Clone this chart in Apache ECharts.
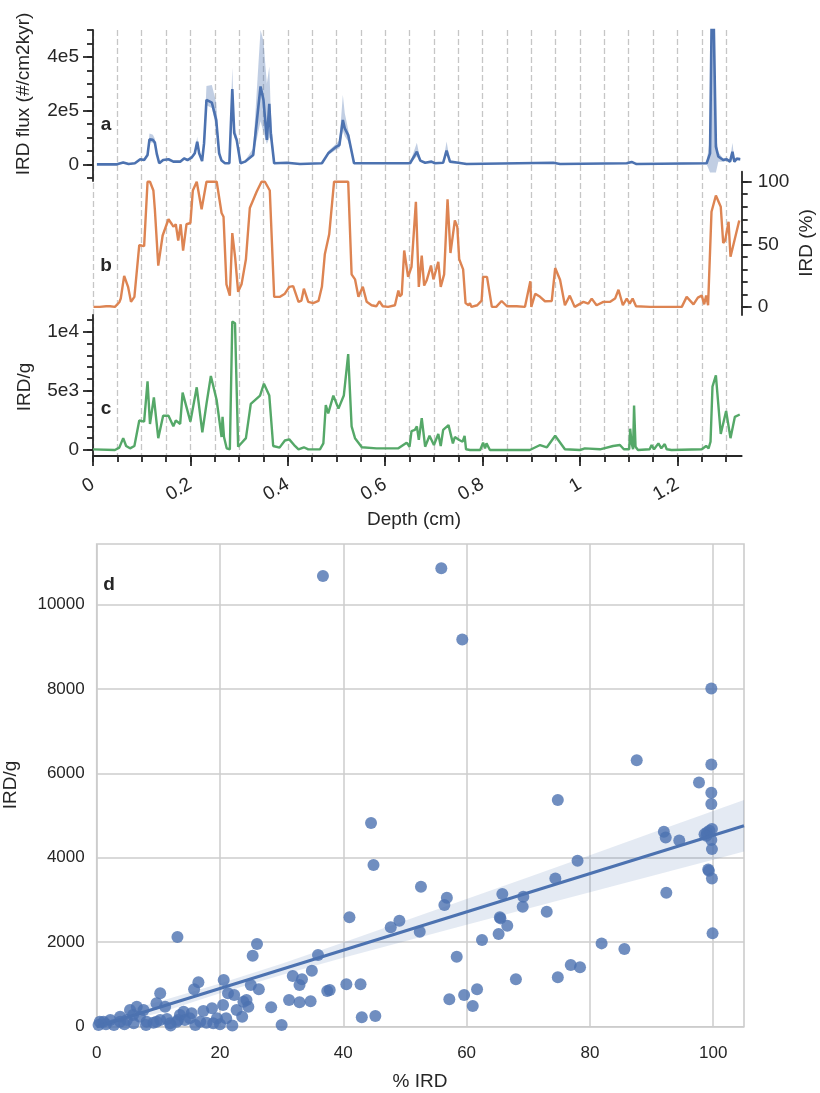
<!DOCTYPE html>
<html>
<head>
<meta charset="utf-8">
<script src="https://cdn.jsdelivr.net/npm/echarts@6/dist/echarts.min.js"></script>
<style>
  html, body { margin: 0; padding: 0; background: #ffffff; }
  #chart { width: 820px; height: 1093px; }
</style>
</head>
<body>
<div id="chart"></div>
<script>
// ---- (a) IRD flux with uncertainty envelope ----
const depthA = [
  0.008,0.049,0.062,0.073,0.086,0.097,0.105,0.112,0.116,0.123,
  0.127,0.131,0.136,0.144,0.155,0.165,0.179,0.187,0.194,0.203,
  0.209,0.214,0.218,0.224,0.228,0.233,0.244,0.253,0.259,0.264,
  0.271,0.280,0.286,0.290,0.295,0.303,0.312,0.329,0.344,0.350,
  0.357,0.362,0.365,0.372,0.398,0.425,0.470,0.483,0.500,0.506,
  0.513,0.517,0.524,0.536,0.651,0.665,0.672,0.682,0.695,0.702,
  0.719,0.726,0.733,0.750,0.767,0.945,0.959,1.096,1.106,1.116,
  1.260,1.267,1.272,1.275,1.279,1.284,1.294,1.301,1.308,1.313,
  1.317,1.322,1.329
];
const fluxA = [
  0,0,7000,1000,4000,19000,16000,35000,93000,91000,
  81000,39000,4000,16000,19000,10000,10000,22000,16000,26000,
  41000,84000,41000,12000,78000,240000,230000,165000,41000,14000,
  4000,4000,280000,116000,91000,4000,10000,35000,290000,240000,
  91000,225000,116000,4000,6000,1000,4000,41000,66000,72000,
  165000,134000,109000,4000,4000,47000,14000,6000,10000,4000,
  6000,51000,10000,6000,1000,6000,1000,4000,9000,1000,
  4000,41000,800000,800000,66000,29000,16000,19000,10000,47000,
  10000,21000,19000
];
const fluxLo = [
  0,0,4000,0,2000,15000,13000,30000,82000,80000,
  70000,33000,2000,13000,16000,8000,8000,19000,13000,22000,
  35000,70000,35000,9000,65000,220000,210000,135000,30000,10000,
  2000,2000,240000,100000,80000,2000,7000,30000,160000,120000,
  75000,100000,90000,2000,4000,0,2000,35000,55000,60000,
  125000,105000,85000,2000,2000,30000,10000,4000,8000,2000,
  4000,35000,8000,4000,0,4000,0,2000,6000,0,
  0,-30000,-30000,-30000,-30000,10000,10000,13000,6000,20000,
  6000,15000,13000
];
const fluxHi = [
  0,0,10000,3000,6000,22000,20000,42000,115000,110000,
  95000,46000,7000,19000,22000,12000,12000,26000,19000,30000,
  48000,103000,50000,15000,90000,292000,295000,230000,60000,20000,
  6000,6000,360000,140000,110000,7000,13000,60000,530000,460000,
  300000,364000,200000,8000,8000,3000,6000,50000,78000,90000,
  258000,190000,130000,6000,6000,80000,18000,8000,12000,6000,
  8000,85000,13000,8000,3000,8000,3000,6000,12000,3000,
  8000,100000,900000,900000,109000,45000,22000,25000,15000,80000,
  15000,27000,25000
];

// ---- (b) IRD percentage ----
const depthB = [
  0.001,0.014,0.027,0.035,0.045,0.054,0.057,0.064,0.068,0.072,
  0.078,0.085,0.095,0.100,0.105,0.112,0.117,0.124,0.127,0.134,
  0.143,0.155,0.162,0.165,0.170,0.175,0.180,0.185,0.192,0.196,
  0.200,0.205,0.213,0.223,0.233,0.254,0.264,0.268,0.274,0.278,
  0.281,0.286,0.292,0.298,0.305,0.314,0.322,0.336,0.346,0.353,
  0.363,0.372,0.384,0.394,0.403,0.411,0.422,0.428,0.433,0.442,
  0.452,0.463,0.470,0.476,0.485,0.495,0.524,0.531,0.538,0.545,
  0.554,0.562,0.572,0.582,0.588,0.595,0.606,0.620,0.627,0.630,
  0.634,0.639,0.647,0.654,0.663,0.669,0.675,0.680,0.685,0.694,
  0.699,0.709,0.714,0.721,0.728,0.734,0.743,0.748,0.752,0.760,
  0.765,0.771,0.774,0.777,0.789,0.798,0.801,0.809,0.819,0.828,
  0.839,0.850,0.870,0.887,0.898,0.900,0.908,0.918,0.928,0.942,
  0.949,0.959,0.969,0.979,0.989,1.007,1.017,1.024,1.034,1.048,
  1.062,1.072,1.079,1.088,1.096,1.102,1.108,1.115,1.144,1.148,
  1.157,1.209,1.219,1.233,1.242,1.250,1.255,1.259,1.263,1.270,
  1.279,1.289,1.294,1.298,1.305,1.309,1.327
];
const pctB = [
  0,0,0.5,0.5,0,3.7,6.7,24.8,24.5,16,
  4,8,49.3,49,48.5,100,100,93,78,33,
  57,70,66,64,66,53,66,45,66,67,
  67,93,100,78,100,100,75,72,18,18,
  9,59,39,12,18,38,79,92,100,100,
  93,8,8,10.5,16,16.6,4,5,14.5,4,
  3,4.7,16,42,58,100,100,26,22,8,
  16,4,1.3,0.5,4.5,0.5,0,1.3,13,8.4,
  10,45,24,32,84,16,41,17,21,33,
  22,36,16,26,86,43,69,64,38,30,
  3,1.3,3,0,1.3,5,24,24,0,0,
  4.7,0.5,0.5,0,20.5,0,10.5,8,4.5,4.7,
  31,21.6,1.3,9,0,4,2.6,6.6,1.3,4,
  4,6.6,13.7,1.3,6.6,2.6,6.6,0.5,0,1.3,
  0,0,8,2,7.4,9,2,9,1.3,76,
  89,80,51,53,68,40,69
];

// ---- (c) IRD per gram ----
const depthC = [
  0.000,0.045,0.054,0.062,0.068,0.076,0.085,0.095,0.105,0.112,
  0.117,0.125,0.134,0.144,0.155,0.165,0.170,0.179,0.184,0.200,
  0.213,0.2245,0.2334,0.242,0.254,0.264,0.266,0.269,0.2745,0.281,
  0.286,0.2916,0.298,0.314,0.324,0.343,0.351,0.362,0.370,0.383,
  0.394,0.403,0.413,0.422,0.433,0.442,0.466,0.473,0.478,0.483,
  0.4935,0.504,0.515,0.524,0.531,0.538,0.552,0.582,0.627,0.644,
  0.650,0.654,0.661,0.665,0.669,0.675,0.682,0.691,0.694,0.700,
  0.709,0.714,0.719,0.730,0.739,0.743,0.752,0.759,0.763,0.766,
  0.774,0.795,0.801,0.805,0.808,0.815,0.897,0.918,0.932,0.949,
  0.969,1.000,1.010,1.041,1.068,1.082,1.090,1.101,1.103,1.106,
  1.109,1.111,1.114,1.119,1.143,1.147,1.152,1.161,1.167,1.174,
  1.178,1.188,1.250,1.259,1.264,1.268,1.272,1.279,1.289,1.300,
  1.309,1.318,1.328
];
const irdC = [
  50,0,200,1000,340,140,340,2500,2400,5800,
  2200,4450,1000,2900,2900,2000,2500,2200,4850,2400,
  5300,1500,4000,6250,4200,1100,2800,1100,140,50,
  10850,10700,280,1000,3900,4600,5600,4600,340,200,
  800,900,420,60,230,50,50,560,3800,3100,
  4600,3500,4600,8100,2000,1000,230,140,140,620,
  280,1600,1700,2000,850,2700,280,1200,1100,420,
  1350,340,1700,2100,560,1100,850,700,1200,60,
  0,0,620,140,560,0,0,420,230,1200,
  60,0,140,60,340,420,60,60,1800,560,
  60,3750,280,0,60,420,60,560,140,500,
  60,0,60,340,140,700,5350,6300,1350,3300,
  1000,2800,3000
];

// ---- (d) IRD/g against % IRD ----
const pctIRD = [
  36.7,55.9,59.3,99.7,87.6,99.7,97.7,99.7,99.7,74.8,44.5,44.9,
  92.0,92.3,94.5,98.6,99.0,99.4,99.8,98.9,99.7,99.8,99.2,99.3,99.8,92.4,99.9,
  78.0,74.4,65.8,69.2,69.1,73.0,56.4,56.8,52.6,65.4,52.4,58.4,62.5,65.5,66.6,65.2,
  57.2,59.6,61.7,61.0,68.0,74.8,76.9,78.4,81.9,85.6,
  41.0,49.1,47.7,13.1,26.0,25.3,35.9,34.9,31.8,33.3,32.9,20.6,16.5,15.8,10.3,25.0,
  26.3,21.3,22.3,40.5,42.8,37.4,37.8,31.2,32.9,34.7,28.3,43.0,45.2,30.0,23.6,22.7,
  24.6,24.3,23.8,20.5,18.7,17.3,9.7,11.1,
  15.4,14.1,13.5,15.1,14.3,13.2,11.4,10.3,9.7,6.5,5.4,5.9,7.6,7.0,3.8,2.2,1.1,0.5,
  3.8,4.9,8.1,9.2,11.9,13.0,16.8,17.8,18.9,0.3,1.5,2.8,4.5,6.0,8.0,12.0,16.0,20.0,
  22.0,19.5,21.0
];
const irdPerGram = [
  10675,10857,9169,8009,6312,6210,5784,5538,5271,5366,4822,3828,
  4615,4482,4411,4560,4600,4640,4680,4520,4419,4205,3720,3690,3512,3172,2210,
  3929,3512,3141,3077,2840,2722,2880,3053,3314,2589,2249,1657,2052,2565,2391,2194,
  648,750,885,490,1121,1169,1460,1405,1973,1839,
  2589,2509,2353,2123,1958,1681,1697,1326,1200,1122,987,1105,1050,885,790,987,
  885,790,750,1003,1003,845,868,632,578,601,459,222,253,40,237,395,
  473,632,592,513,435,372,553,473,
  317,355,277,199,159,159,182,159,118,473,395,277,395,237,237,159,118,118,
  118,159,118,95,80,118,118,95,80,40,60,40,60,80,40,30,40,60,
  30,200,200
];
// Fitted regression line and its 95% confidence envelope
const fitX = [0, 105];
const fitY = [0, 4757];
const ciX  = [0, 10, 20, 30, 40, 50, 60, 70, 80, 90, 100, 105];
const ciLo = [-182, 318, 791, 1225, 1631, 2021, 2414, 2801, 3186, 3570, 3954, 4147];
const ciHi = [182, 588, 1021, 1493, 1993, 2509, 3022, 3541, 4062, 4584, 5106, 5367];

// ---- tick positions and labels ----
const depthMinorTicks = [0,0.05,0.1,0.15,0.2,0.25,0.3,0.35,0.4,0.45,0.5,0.55,0.6,0.65,
  0.7,0.75,0.8,0.85,0.9,0.95,1,1.05,1.1,1.15,1.2,1.25,1.3];
const depthMajorTicks = [0,0.2,0.4,0.6,0.8,1,1.2];
const fluxMinorTicks = [-50000,0,50000,100000,150000,200000,250000,300000,350000,400000,450000,500000];
const fluxMajorTicks = [0,200000,400000];
const fluxTickLabels = ['0','2e5','4e5'];
const pctMinorTicks = [0,10,20,30,40,50,60,70,80,90,100];
const pctMajorTicks = [0,50,100];
const gramMinorTicks = [0,1000,2000,3000,4000,5000,6000,7000,8000,9000,10000,11000];
const gramMajorTicks = [0,5000,10000];
const gramTickLabels = ['0','5e3','1e4'];

const FONT = '"Liberation Sans", Arial, Helvetica, sans-serif';
const INK = '#262626';
const BLUE = '#4c72b0', ORANGE = '#dd8452', GREEN = '#55a868';

const pairs = (xs, ys) => xs.map((x, i) => [x, ys[i]]);

function envelope(xs, lo, hi, xi, yi, yMin, yMax, fill) {
  const c = v => Math.max(yMin, Math.min(yMax, v));
  return {
    type: 'custom', xAxisIndex: xi, yAxisIndex: yi, clip: true, silent: true, z: 2,
    data: [[xs[0], 0]],
    renderItem: function (params, api) {
      const pts = [];
      for (let i = 0; i < xs.length; i++) pts.push(api.coord([xs[i], c(hi[i])]));
      for (let i = xs.length - 1; i >= 0; i--) pts.push(api.coord([xs[i], c(lo[i])]));
      return { type: 'polygon', shape: { points: pts }, style: { fill: fill } };
    }
  };
}

const spine = { show: true, onZero: false, lineStyle: { color: INK, width: 1.8 } };
const noLine = { show: false, onZero: false };
const tickLine = { color: INK, width: 1.8 };
const topFont = { color: INK, fontSize: 19, fontFamily: FONT };
const gridFont = { color: INK, fontSize: 17, fontFamily: FONT };
const hiddenX = (g) => ({ type: 'value', gridIndex: g, min: 0, max: 1.332, show: false, axisLine: noLine });

const LEFT = 93, WIDTH = 648.7;

const option = {
  animation: false,
  backgroundColor: '#ffffff',
  grid: [
    { left: LEFT, top: 30, width: WIDTH, height: 426, outerBoundsMode: 'none' },
    { left: LEFT, top: 30, width: WIDTH, height: 151, outerBoundsMode: 'none' },
    { left: LEFT, top: 171.7, width: WIDTH, height: 143.3, outerBoundsMode: 'none' },
    { left: LEFT, top: 315, width: WIDTH, height: 141, outerBoundsMode: 'none' },
    { left: 96.7, top: 544, width: 647.3, height: 482.7, show: true,
      borderColor: '#cccccc', borderWidth: 1.6, backgroundColor: 'transparent', outerBoundsMode: 'none' }
  ],
  xAxis: [
    // 0: dashed depth guides through all three panels
    { type: 'value', gridIndex: 0, min: 0, max: 1.332, interval: 0.05, position: 'bottom',
      axisLine: noLine, axisTick: { show: false }, axisLabel: { show: false },
      splitLine: { show: true, showMaxLine: false, lineStyle: { color: '#c6c6c6', width: 1.3, type: [6, 3] } } },
    // 1: bottom depth axis with minor ticks
    { type: 'value', gridIndex: 0, min: 0, max: 1.332, position: 'bottom', offset: 0,
      axisLine: spine,
      axisTick: { show: true, length: 6, lineStyle: tickLine, customValues: depthMinorTicks },
      axisLabel: { show: false }, splitLine: { show: false } },
    // 2: bottom depth axis major ticks and labels
    { type: 'value', gridIndex: 0, min: 0, max: 1.332, position: 'bottom', offset: 0,
      axisLine: noLine,
      axisTick: { show: true, length: 10, lineStyle: tickLine, customValues: depthMajorTicks },
      axisLabel: Object.assign({ show: true, rotate: 30, margin: 27, customValues: depthMajorTicks,
        formatter: v => String(v) }, topFont),
      splitLine: { show: false } },
    hiddenX(1), hiddenX(2), hiddenX(3),
    // 6: scatter x
    { type: 'value', gridIndex: 4, min: 0, max: 105, interval: 20,
      axisLine: noLine, axisTick: { show: false },
      axisLabel: Object.assign({ margin: 18, showMaxLabel: false, formatter: v => String(v) }, gridFont),
      splitLine: { show: true, showMaxLine: false, lineStyle: { color: '#cccccc', width: 1.5 } } }
  ],
  yAxis: [
    { type: 'value', gridIndex: 0, min: 0, max: 1, show: false, axisLine: noLine },
    // panel a
    { type: 'value', gridIndex: 1, min: -62000, max: 500000, position: 'left',
      axisLine: spine,
      axisTick: { show: true, length: 6, lineStyle: tickLine, customValues: fluxMinorTicks },
      axisLabel: { show: false }, splitLine: { show: false } },
    { type: 'value', gridIndex: 1, min: -62000, max: 500000, position: 'left', offset: 0,
      axisLine: noLine,
      axisTick: { show: true, length: 10, lineStyle: tickLine, customValues: fluxMajorTicks },
      axisLabel: Object.assign({ margin: 14, customValues: fluxMajorTicks,
        formatter: v => fluxTickLabels[fluxMajorTicks.indexOf(v)] }, topFont),
      splitLine: { show: false } },
    // panel b (right side)
    { type: 'value', gridIndex: 2, min: -6.5, max: 108, position: 'right',
      axisLine: spine,
      axisTick: { show: true, length: 6, lineStyle: tickLine, customValues: pctMinorTicks },
      axisLabel: { show: false }, splitLine: { show: false } },
    { type: 'value', gridIndex: 2, min: -6.5, max: 108, position: 'right', offset: 0,
      axisLine: noLine,
      axisTick: { show: true, length: 10, lineStyle: tickLine, customValues: pctMajorTicks },
      axisLabel: Object.assign({ margin: 16, customValues: pctMajorTicks }, topFont),
      splitLine: { show: false } },
    // panel c
    { type: 'value', gridIndex: 3, min: -507, max: 11408, position: 'left',
      axisLine: spine,
      axisTick: { show: true, length: 6, lineStyle: tickLine, customValues: gramMinorTicks },
      axisLabel: { show: false }, splitLine: { show: false } },
    { type: 'value', gridIndex: 3, min: -507, max: 11408, position: 'left', offset: 0,
      axisLine: noLine,
      axisTick: { show: true, length: 10, lineStyle: tickLine, customValues: gramMajorTicks },
      axisLabel: Object.assign({ margin: 14, customValues: gramMajorTicks,
        formatter: v => gramTickLabels[gramMajorTicks.indexOf(v)] }, topFont),
      splitLine: { show: false } },
    // scatter y
    { type: 'value', gridIndex: 4, min: 0, max: 11430, interval: 2000,
      axisLine: noLine, axisTick: { show: false },
      axisLabel: Object.assign({ margin: 12, showMaxLabel: false, formatter: v => String(v) }, gridFont),
      splitLine: { show: true, showMaxLine: false, lineStyle: { color: '#cccccc', width: 1.5 } } }
  ],
  series: [
    envelope(depthA, fluxLo, fluxHi, 3, 1, -62000, 500000, 'rgba(76,114,176,0.35)'),
    { type: 'line', xAxisIndex: 3, yAxisIndex: 1, data: pairs(depthA, fluxA), showSymbol: false,
      symbol: 'none', clip: true, z: 3, lineStyle: { color: BLUE, width: 2.6 } },
    { type: 'line', xAxisIndex: 4, yAxisIndex: 3, data: pairs(depthB, pctB), showSymbol: false,
      symbol: 'none', clip: true, z: 3, lineStyle: { color: ORANGE, width: 2.4 } },
    { type: 'line', xAxisIndex: 5, yAxisIndex: 5, data: pairs(depthC, irdC), showSymbol: false,
      symbol: 'none', clip: true, z: 3, lineStyle: { color: GREEN, width: 2.4 } },
    { type: 'scatter', xAxisIndex: 6, yAxisIndex: 7, data: pairs(pctIRD, irdPerGram),
      symbolSize: 12, z: 2, itemStyle: { color: BLUE, opacity: 0.8 } },
    envelope(ciX, ciLo, ciHi, 6, 7, 0, 11430, 'rgba(76,114,176,0.15)'),
    { type: 'line', xAxisIndex: 6, yAxisIndex: 7, data: pairs(fitX, fitY), showSymbol: false,
      symbol: 'none', clip: true, z: 4, lineStyle: { color: BLUE, width: 3 } }
  ],
  graphic: [
    { type: 'text', x: 106, y: 125, style: { text: 'a', font: 'bold 19px ' + FONT, fill: INK, align: 'center', verticalAlign: 'middle', textAlign: 'center', textVerticalAlign: 'middle' } },
    { type: 'text', x: 106, y: 266, style: { text: 'b', font: 'bold 19px ' + FONT, fill: INK, align: 'center', verticalAlign: 'middle', textAlign: 'center', textVerticalAlign: 'middle' } },
    { type: 'text', x: 106, y: 409, style: { text: 'c', font: 'bold 19px ' + FONT, fill: INK, align: 'center', verticalAlign: 'middle', textAlign: 'center', textVerticalAlign: 'middle' } },
    { type: 'text', x: 109, y: 585, style: { text: 'd', font: 'bold 19px ' + FONT, fill: INK, align: 'center', verticalAlign: 'middle', textAlign: 'center', textVerticalAlign: 'middle' } },
    { type: 'text', x: 24, y: 94, rotation: Math.PI / 2, style: { text: 'IRD flux (#/cm2kyr)', font: '19px ' + FONT, fill: INK, align: 'center', verticalAlign: 'middle', textAlign: 'center', textVerticalAlign: 'middle' } },
    { type: 'text', x: 807, y: 243, rotation: Math.PI / 2, style: { text: 'IRD (%)', font: '19px ' + FONT, fill: INK, align: 'center', verticalAlign: 'middle', textAlign: 'center', textVerticalAlign: 'middle' } },
    { type: 'text', x: 25, y: 387, rotation: Math.PI / 2, style: { text: 'IRD/g', font: '19px ' + FONT, fill: INK, align: 'center', verticalAlign: 'middle', textAlign: 'center', textVerticalAlign: 'middle' } },
    { type: 'text', x: 414, y: 520, style: { text: 'Depth (cm)', font: '19px ' + FONT, fill: INK, align: 'center', verticalAlign: 'middle', textAlign: 'center', textVerticalAlign: 'middle' } },
    { type: 'text', x: 11, y: 785, rotation: Math.PI / 2, style: { text: 'IRD/g', font: '19px ' + FONT, fill: INK, align: 'center', verticalAlign: 'middle', textAlign: 'center', textVerticalAlign: 'middle' } },
    { type: 'text', x: 420, y: 1082, style: { text: '% IRD', font: '19px ' + FONT, fill: INK, align: 'center', verticalAlign: 'middle', textAlign: 'center', textVerticalAlign: 'middle' } }
  ]
};

const chart = echarts.init(document.getElementById('chart'), null, { renderer: 'canvas' });
chart.setOption(option);
</script>
</body>
</html>
